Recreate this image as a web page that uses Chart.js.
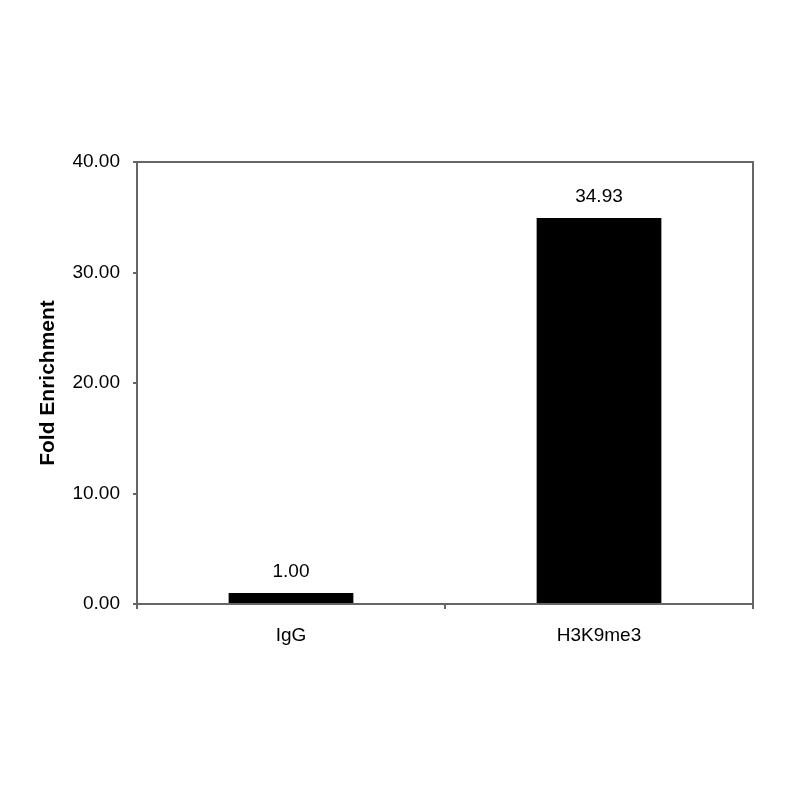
<!DOCTYPE html>
<html>
<head>
<meta charset="utf-8">
<script src="https://cdn.jsdelivr.net/npm/chart.js@4.4.0/dist/chart.umd.min.js"></script>
<style>
  html, body { margin: 0; padding: 0; background: #fff; }
  #chart { display: block; }
</style>
</head>
<body>
<canvas id="chart" width="800" height="800"></canvas>
<script>
// ===== 数据 =====
const categories = ['IgG', 'H3K9me3'];
const foldValues = [1.00, 34.93];
const yTickValues = [0, 10, 20, 30, 40];

const axisColor = '#666';
const fontFamily = "'Liberation Sans', Arial, sans-serif";

// 图框（上、右边线）
const boxPlugin = {
    id: 'box',
    afterDatasetsDraw(chart) {
        const a = chart.chartArea;
        const ctx = chart.ctx;
        ctx.save();
        ctx.strokeStyle = axisColor;
        ctx.lineWidth = 2;
        ctx.beginPath();
        ctx.moveTo(a.left, a.top);
        ctx.lineTo(a.right, a.top);
        ctx.lineTo(a.right, a.bottom);
        ctx.stroke();
        ctx.restore();
    }
};

// 柱顶数值
const valueLabels = {
    id: 'valueLabels',
    afterDatasetsDraw(chart) {
        const ctx = chart.ctx;
        const meta = chart.getDatasetMeta(0);
        ctx.save();
        ctx.fillStyle = '#000';
        ctx.font = '19px ' + fontFamily;
        ctx.textAlign = 'center';
        ctx.textBaseline = 'middle';
        meta.data.forEach((bar, i) => {
            ctx.fillText(foldValues[i].toFixed(2), bar.x, bar.y - 21);
        });
        ctx.restore();
    }
};

new Chart(document.getElementById('chart'), {
    type: 'bar',
    data: {
        labels: categories,
        datasets: [{
            data: foldValues,
            backgroundColor: '#000',
            borderWidth: 0,
            barPercentage: 0.405,
            categoryPercentage: 1.0
        }]
    },
    options: {
        responsive: false,
        animation: false,
        layout: { padding: { left: 0, top: 162, right: 47, bottom: 0 } },
        plugins: {
            legend: { display: false },
            tooltip: { enabled: false }
        },
        scales: {
            x: {
                grid: { drawOnChartArea: false, drawTicks: true, tickLength: 5, color: axisColor, lineWidth: 2 },
                border: { display: true, color: axisColor, width: 2 },
                ticks: { color: '#000', font: { family: fontFamily, size: 19 }, padding: 15 },
                afterFit(scale) { scale.height = 196; }
            },
            y: {
                min: 0,
                max: 40,
                afterBuildTicks(scale) { scale.ticks = yTickValues.map(v => ({ value: v })); },
                grid: { drawOnChartArea: false, drawTicks: true, tickLength: 4, color: axisColor, lineWidth: 2 },
                border: { display: true, color: axisColor, width: 2 },
                ticks: {
                    color: '#000',
                    font: { family: fontFamily, size: 19 },
                    padding: 13,
                    callback: v => Number(v).toFixed(2)
                },
                title: {
                    display: true,
                    text: 'Fold Enrichment',
                    color: '#000',
                    font: { family: fontFamily, size: 21, weight: 'bold', lineHeight: 1.2 },
                    padding: { top: 36, bottom: 0 }
                },
                afterFit(scale) { scale.width = 137; }
            }
        }
    },
    plugins: [boxPlugin, valueLabels]
});
</script>
</body>
</html>
